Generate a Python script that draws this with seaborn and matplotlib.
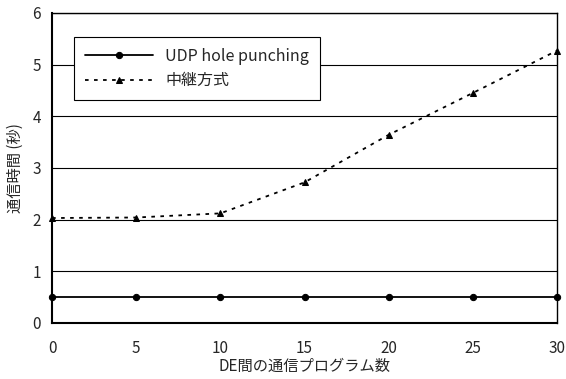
import numpy as np
import pandas as pd
import seaborn as sns
import matplotlib
matplotlib.use("Agg")
import matplotlib.pyplot as plt

# data
programs = [0, 5, 10, 15, 20, 25, 30]
udp_hole = [0.5, 0.5, 0.5, 0.5, 0.5, 0.5, 0.5]
relay = [2.03, 2.04, 2.12, 2.72, 3.64, 4.45, 5.27]
series_names = ["UDP hole punching", "中継方式"]

df = pd.DataFrame({
    "x": programs * 2,
    "y": udp_hole + relay,
    "series": [series_names[0]] * len(programs) + [series_names[1]] * len(programs),
})

sns.set_style("white")
plt.rcParams['font.family'] = ['Noto Sans CJK JP', 'DejaVu Sans']

fig = plt.figure(figsize=(5.66, 3.79), dpi=100)
ax = fig.add_axes([0.092, 0.148, 0.892, 0.818])

sns.lineplot(data=df[df.series == series_names[0]], x="x", y="y", ax=ax,
             color="black", linewidth=1.3, marker="o", markersize=4.5,
             markeredgecolor="black", label=series_names[0], clip_on=False)
sns.lineplot(data=df[df.series == series_names[1]], x="x", y="y", ax=ax,
             color="black", linewidth=1.3, linestyle=(0, (2, 3)), marker="^",
             markersize=5, markeredgecolor="black", label=series_names[1],
             clip_on=False)

ax.set_xlim(0, 30)
ax.set_ylim(0, 6)
ax.set_xticks(range(0, 31, 5))
ax.set_yticks(range(0, 7))
ax.yaxis.grid(True, color="black", linewidth=0.8)
ax.set_axisbelow(True)
for s in ax.spines.values():
    s.set_color("black")
    s.set_linewidth(1.0)
ax.spines["left"].set_linewidth(1.5)
ax.spines["bottom"].set_linewidth(1.5)

ax.tick_params(axis="x", direction="in", length=4, width=0.8, pad=12, labelsize=11)
ax.tick_params(axis="y", length=0, pad=8, labelsize=11)

ax.set_xlabel("DE間の通信プログラム数", fontsize=11, labelpad=1)
ax.set_ylabel("通信時間 (秒)", fontsize=11, labelpad=6)

leg = ax.legend(loc="upper left", bbox_to_anchor=(0.044, 0.923), borderaxespad=0,
                fontsize=11.5, frameon=True, fancybox=False, edgecolor="black",
                handlelength=4.2, borderpad=0.7, labelspacing=0.45)
leg.get_frame().set_linewidth(0.8)
leg.get_frame().set_facecolor("white")
leg.get_frame().set_alpha(1)

fig.savefig("out.png", dpi=100)
